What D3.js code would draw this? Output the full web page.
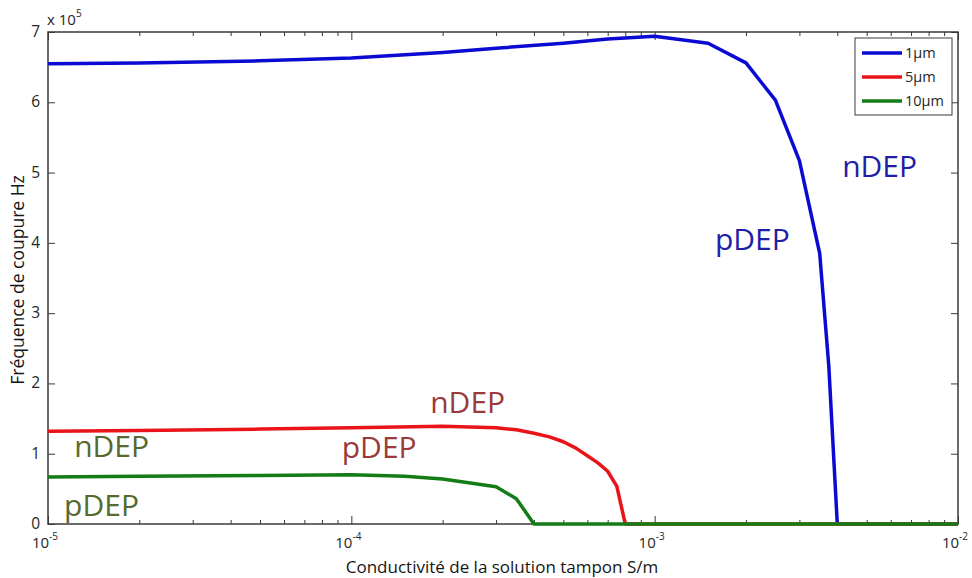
<!DOCTYPE html>
<html>
<head>
<meta charset="utf-8">
<script src="https://cdn.jsdelivr.net/npm/d3@7/dist/d3.min.js"></script>
<style>
  html, body { margin: 0; padding: 0; background: #fff; }
  svg { display: block; font-family: "Open Sans", "DejaVu Sans", sans-serif; }
</style>
</head>
<body>
<div id="chart"></div>
<script>
// ---- data (conductivity S/m, cut-off frequency Hz) ----
const series1Label = "1\u00b5m";
const series1X = [1e-5, 2e-5, 5e-5, 1e-4, 2e-4, 3e-4, 5e-4, 7e-4, 1e-3, 1.5e-3, 2e-3, 2.5e-3, 3e-3, 3.5e-3, 3.75e-3, 4e-3, 5e-3, 1e-2];
const series1Y = [6.55e5, 6.56e5, 6.59e5, 6.63e5, 6.71e5, 6.77e5, 6.84e5, 6.90e5, 6.94e5, 6.84e5, 6.56e5, 6.03e5, 5.17e5, 3.85e5, 2.25e5, 0, 0, 0];

const series2Label = "5\u00b5m";
const series2X = [1e-5, 2e-5, 5e-5, 1e-4, 2e-4, 3e-4, 3.5e-4, 4e-4, 4.5e-4, 5e-4, 5.5e-4, 6e-4, 6.5e-4, 7e-4, 7.5e-4, 8e-4, 1e-3, 1e-2];
const series2Y = [1.32e5, 1.33e5, 1.35e5, 1.37e5, 1.39e5, 1.37e5, 1.34e5, 1.29e5, 1.24e5, 1.17e5, 1.08e5, 0.97e5, 0.87e5, 0.75e5, 0.54e5, 0, 0, 0];

const series3Label = "10\u00b5m";
const series3X = [1e-5, 2e-5, 5e-5, 1e-4, 1.5e-4, 2e-4, 2.5e-4, 3e-4, 3.5e-4, 4e-4, 1e-3, 1e-2];
const series3Y = [0.67e5, 0.68e5, 0.69e5, 0.70e5, 0.68e5, 0.64e5, 0.58e5, 0.53e5, 0.36e5, 0, 0, 0];

const xDecades = [1e-5, 1e-4, 1e-3, 1e-2];
const xDecadeExponents = ["-5", "-4", "-3", "-2"];
const yTicks = [0, 1e5, 2e5, 3e5, 4e5, 5e5, 6e5, 7e5];

const annotations = [
  { text: "nDEP", x: 4.15e-3, y: 4.94e5, color: "#1e1ea6" },
  { text: "pDEP", x: 1.58e-3, y: 3.90e5, color: "#1e1ea6" },
  { text: "nDEP", x: 1.82e-4, y: 1.58e5, color: "#9a3a3a" },
  { text: "pDEP", x: 9.3e-5, y: 0.94e5, color: "#9a3a3a" },
  { text: "nDEP", x: 1.22e-5, y: 0.95e5, color: "#566a2c" },
  { text: "pDEP", x: 1.13e-5, y: 0.11e5, color: "#566a2c" }
];

const W = 972, H = 578;
const M = { left: 48, right: 958, top: 32, bottom: 524 };

const svg = d3.select("#chart").append("svg").attr("width", W).attr("height", H);

const x = d3.scaleLog().domain([1e-5, 1e-2]).range([M.left, M.right]);
const y = d3.scaleLinear().domain([0, 7e5]).range([M.bottom, M.top]);

const axisColor = "#3a3a3a";
const tickTextColor = "#262626";

// minor ticks on log axis
const minorTicks = [];
xDecades.slice(0, -1).forEach(d => { for (let k = 2; k <= 9; k++) minorTicks.push(d * k); });

// x axis bottom
const gxb = svg.append("g").attr("transform", `translate(0,${M.bottom})`)
  .call(d3.axisBottom(x).tickValues(xDecades).tickSize(-8).tickFormat(""));
const gxbm = svg.append("g").attr("transform", `translate(0,${M.bottom})`)
  .call(d3.axisBottom(x).tickValues(minorTicks).tickSize(-4).tickFormat(""));
// x axis top
const gxt = svg.append("g").attr("transform", `translate(0,${M.top})`)
  .call(d3.axisTop(x).tickValues(xDecades).tickSize(-8).tickFormat(""));
const gxtm = svg.append("g").attr("transform", `translate(0,${M.top})`)
  .call(d3.axisTop(x).tickValues(minorTicks).tickSize(-4).tickFormat(""));
// y axes
const gyl = svg.append("g").attr("transform", `translate(${M.left},0)`)
  .call(d3.axisLeft(y).tickValues(yTicks).tickSize(-7).tickFormat(""));
const gyr = svg.append("g").attr("transform", `translate(${M.right},0)`)
  .call(d3.axisRight(y).tickValues(yTicks).tickSize(-7).tickFormat(""));

[gxb, gxbm, gxt, gxtm, gyl, gyr].forEach(g => {
  g.select(".domain").remove();
  g.selectAll(".tick line").attr("stroke", axisColor).attr("stroke-width", 1);
});

// box
svg.append("rect")
  .attr("x", M.left).attr("y", M.top)
  .attr("width", M.right - M.left).attr("height", M.bottom - M.top)
  .attr("fill", "none").attr("stroke", axisColor).attr("stroke-width", 1.5);

// y tick labels
svg.append("g").selectAll("text").data(yTicks).join("text")
  .attr("x", M.left - 8).attr("y", d => y(d) + 5)
  .attr("text-anchor", "end").attr("font-size", 15.5).attr("fill", tickTextColor)
  .text(d => d / 1e5);

// x tick labels (10^n)
const xl = svg.append("g").selectAll("text").data(xDecades).join("text")
  .attr("x", d => x(d) - 3).attr("y", M.bottom + 24)
  .attr("text-anchor", "middle").attr("font-size", 15).attr("fill", tickTextColor);
xl.append("tspan").text("10");
xl.append("tspan").attr("dy", -8).attr("font-size", 10).text((d, i) => xDecadeExponents[i]);

// exponent multiplier
const mult = svg.append("text").attr("x", M.left - 1).attr("y", 25)
  .attr("font-size", 15).attr("fill", tickTextColor);
mult.append("tspan").text("x 10");
mult.append("tspan").attr("dy", -8).attr("font-size", 10).text("5");

// axis titles
svg.append("text").attr("x", 502).attr("y", 573).attr("text-anchor", "middle")
  .attr("font-size", 17).attr("fill", "#151515")
  .text("Conductivit\u00e9 de la solution tampon S/m");
svg.append("text").attr("transform", `translate(24,280) rotate(-90)`).attr("text-anchor", "middle")
  .attr("font-size", 17.5).attr("fill", "#151515")
  .text("Fr\u00e9quence de coupure Hz");

// lines
const seriesList = [
  { label: series1Label, xs: series1X, ys: series1Y, color: "#0a0ad2" },
  { label: series2Label, xs: series2X, ys: series2Y, color: "#e8141a" },
  { label: series3Label, xs: series3X, ys: series3Y, color: "#137c16" }
];
const line = d3.line().x(d => x(d[0])).y(d => y(d[1]));
seriesList.forEach(s => {
  svg.append("path")
    .datum(s.xs.map((v, i) => [v, s.ys[i]]))
    .attr("d", line)
    .attr("fill", "none").attr("stroke", s.color)
    .attr("stroke-width", 3.5).attr("stroke-linejoin", "round");
});

// annotations
svg.append("g").selectAll("text").data(annotations).join("text")
  .attr("x", d => x(d.x)).attr("y", d => y(d.y))
  .attr("font-size", 30).attr("fill", d => d.color)
  .text(d => d.text);

// legend
const lg = svg.append("g");
lg.append("rect").attr("x", 855).attr("y", 38).attr("width", 97).attr("height", 77)
  .attr("fill", "#fff").attr("stroke", axisColor).attr("stroke-width", 1);
seriesList.forEach((s, i) => {
  const ly = 53 + i * 24;
  lg.append("line").attr("x1", 862).attr("x2", 902).attr("y1", ly).attr("y2", ly)
    .attr("stroke", s.color).attr("stroke-width", 3.5);
  lg.append("text").attr("x", 905).attr("y", ly + 5).attr("font-size", 14.5)
    .attr("fill", tickTextColor).text(s.label);
});
</script>
</body>
</html>
